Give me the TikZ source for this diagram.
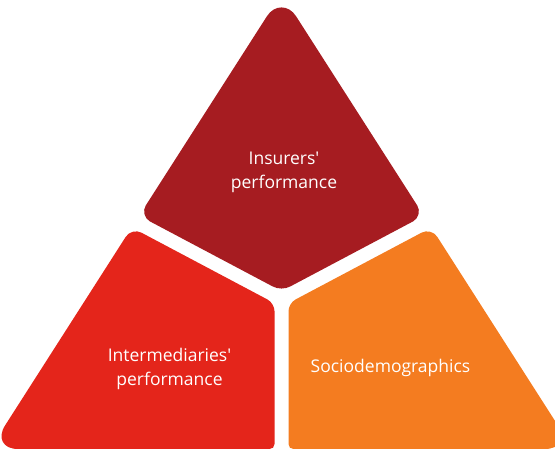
\documentclass[tikz,border=0pt]{standalone}
\usepackage{fontspec}
\setmainfont{Open Sans}
\usetikzlibrary{calc}
\definecolor{topc}{RGB}{166,28,33}
\definecolor{leftc}{RGB}{228,37,27}
\definecolor{rightc}{RGB}{244,124,32}
\begin{document}
\begin{tikzpicture}[x=1pt,y=-1pt,
  lbl/.style={text=white,align=center,font=\fontsize{17.5}{24}\selectfont,inner sep=0pt}]
\useasboundingbox (0,0) rectangle (555,448);
\clip (0,0) rectangle (555,448);
\coordinate (A) at (281.5,-6.5);
\coordinate (TL) at (139.2,215.7);
\coordinate (TR) at (423.8,215.7);
\coordinate (TB) at (281.5,291.1);
\coordinate (BL) at (-10,449);
\coordinate (BR) at (573,449);
\coordinate (LT) at (131.7,227.5);
\coordinate (LR) at (274.5,303.2);
\coordinate (LB) at (274.5,449);
\coordinate (RT) at (431.3,227.5);
\coordinate (RL) at (288.5,303.2);
\coordinate (RB) at (288.5,449);
% top piece
\fill[topc] ($(A)!0.5!(TL)$) -- ($(A)!27pt!(TL)$) .. controls ($(A)!13pt!(TL)$) and ($(A)!13pt!(TR)$) .. ($(A)!27pt!(TR)$)
 -- ($(TR)!12pt!(A)$) .. controls ($(TR)!6pt!(A)$) and ($(TR)!6pt!(TB)$) .. ($(TR)!12pt!(TB)$)
 -- ($(TB)!10pt!(TR)$) .. controls ($(TB)!4pt!(TR)$) and ($(TB)!4pt!(TL)$) .. ($(TB)!10pt!(TL)$)
 -- ($(TL)!12pt!(TB)$) .. controls ($(TL)!6pt!(TB)$) and ($(TL)!6pt!(A)$) .. ($(TL)!12pt!(A)$) -- cycle;
% left piece
\fill[leftc] ($(LT)!0.5!(BL)$) -- ($(BL)!28pt!(LT)$) .. controls ($(BL)!13pt!(LT)$) and ($(BL)!13pt!(LB)$) .. ($(BL)!28pt!(LB)$)
 -- ($(LB)!5pt!(BL)$) .. controls ($(LB)!2pt!(BL)$) and ($(LB)!2pt!(LR)$) .. ($(LB)!5pt!(LR)$)
 -- ($(LR)!8pt!(LB)$) .. controls ($(LR)!3.5pt!(LB)$) and ($(LR)!3.5pt!(LT)$) .. ($(LR)!8pt!(LT)$)
 -- ($(LT)!11pt!(LR)$) .. controls ($(LT)!5pt!(LR)$) and ($(LT)!5pt!(BL)$) .. ($(LT)!11pt!(BL)$) -- cycle;
% right piece
\fill[rightc] ($(RT)!0.5!(BR)$) -- ($(BR)!28pt!(RT)$) .. controls ($(BR)!13pt!(RT)$) and ($(BR)!13pt!(RB)$) .. ($(BR)!28pt!(RB)$)
 -- ($(RB)!5pt!(BR)$) .. controls ($(RB)!2pt!(BR)$) and ($(RB)!2pt!(RL)$) .. ($(RB)!5pt!(RL)$)
 -- ($(RL)!8pt!(RB)$) .. controls ($(RL)!3.5pt!(RB)$) and ($(RL)!3.5pt!(RT)$) .. ($(RL)!8pt!(RT)$)
 -- ($(RT)!11pt!(RL)$) .. controls ($(RT)!5pt!(RL)$) and ($(RT)!5pt!(BR)$) .. ($(RT)!11pt!(BR)$) -- cycle;
\node[lbl] (ins) at (284,172) {Insurers\textquotesingle\\performance};
\node[lbl] (int) at (169.5,369) {Intermediaries\textquotesingle\\performance};
\node[lbl] (soc) at (390.5,367.5) {Sociodemographics};
\end{tikzpicture}
\end{document}
